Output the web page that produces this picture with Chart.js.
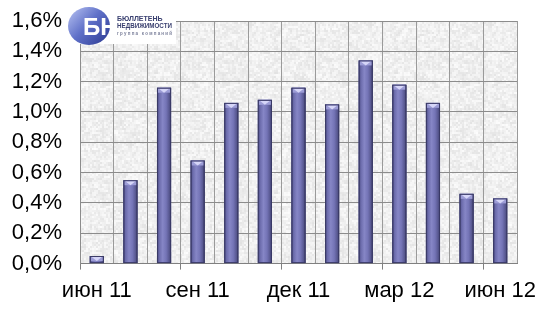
<!DOCTYPE html>
<html>
<head>
<meta charset="utf-8">
<script src="https://cdn.jsdelivr.net/npm/chart.js@4/dist/chart.umd.min.js"></script>
<style>
  html, body { margin: 0; padding: 0; background: #fff; }
  #wrap { width: 549px; height: 312px; }
</style>
</head>
<body>
<div id="wrap"><canvas id="chart" width="549" height="312"></canvas></div>
<script>
// months from June 2011 to June 2012
const months = ['июн 11', 'июл 11', 'авг 11', 'сен 11', 'окт 11', 'ноя 11', 'дек 11',
                'янв 12', 'фев 12', 'мар 12', 'апр 12', 'май 12', 'июн 12'];
const growth = [0.05, 0.55, 1.16, 0.68, 1.06, 1.08, 1.16, 1.05, 1.34, 1.18, 1.06, 0.46, 0.43];
const yTicks = [0, 0.2, 0.4, 0.6, 0.8, 1.0, 1.2, 1.4, 1.6];

const FONT = 'Arial, "Liberation Sans", sans-serif';

// light grey "marble" fill for the plot area (deterministic texture)
function makeTexture() {
    const c = document.createElement('canvas');
    c.width = 120; c.height = 120;
    const g = c.getContext('2d');
    g.fillStyle = '#efefef';
    g.fillRect(0, 0, 120, 120);
    for (let y = 0; y < 120; y += 2) {
        for (let x = 0; x < 120; x += 2) {
            const h = Math.sin(x * 12.9898 + y * 78.233) * 43758.5453;
            const f = h - Math.floor(h);
            const v = Math.round(224 + f * 30);
            g.fillStyle = `rgba(${v},${v},${v},0.7)`;
            g.fillRect(x, y, 2 + Math.round(f * 3), 2 + Math.round((1 - f) * 2));
        }
    }
    return c;
}

const plotBackground = {
    id: 'plotBackground',
    beforeDraw(chart) {
        const { ctx, chartArea: a } = chart;
        ctx.save();
        ctx.fillStyle = ctx.createPattern(makeTexture(), 'repeat');
        ctx.fillRect(a.left, a.top, a.right - a.left, a.bottom - a.top);
        ctx.restore();
    }
};

// cylinder-like shading and a bevelled top on every bar
const barShading = {
    id: 'barShading',
    afterDatasetsDraw(chart) {
        const ctx = chart.ctx;
        chart.getDatasetMeta(0).data.forEach(bar => {
            const l = bar.x - bar.width / 2, r = bar.x + bar.width / 2;
            const top = bar.y, base = bar.base;
            const grad = ctx.createLinearGradient(l, 0, r, 0);
            grad.addColorStop(0, '#3e3e70');
            grad.addColorStop(0.15, '#6a6aaa');
            grad.addColorStop(0.4, '#8686c6');
            grad.addColorStop(0.65, '#7474b6');
            grad.addColorStop(0.88, '#56568e');
            grad.addColorStop(1, '#36365e');
            ctx.save();
            ctx.fillStyle = grad;
            ctx.fillRect(l, top, r - l, base - top);
            const capH = Math.min(5, base - top);
            ctx.fillStyle = '#9c9cd6';
            ctx.fillRect(l + 1, top, r - l - 2, capH);
            ctx.beginPath();
            ctx.moveTo(l + 2, top + 1);
            ctx.lineTo(r - 2, top + 1);
            ctx.lineTo(bar.x, top + capH);
            ctx.closePath();
            ctx.fillStyle = '#d6d6f8';
            ctx.fill();
            ctx.strokeStyle = '#3a3a66';
            ctx.lineWidth = 1;
            ctx.strokeRect(l + 0.5, top + 0.5, r - l - 1, base - top - 1);
            ctx.restore();
        });
    }
};

// company logo in the top left corner
const logo = {
    id: 'logo',
    afterDraw(chart) {
        const ctx = chart.ctx;
        ctx.save();
        ctx.fillStyle = '#ffffff';
        ctx.fillRect(68, 7, 108, 37);
        const g = ctx.createLinearGradient(70, 8, 110, 45);
        g.addColorStop(0, '#b4bff0');
        g.addColorStop(0.45, '#5f70c8');
        g.addColorStop(1, '#2a3890');
        ctx.fillStyle = g;
        ctx.beginPath();
        ctx.ellipse(89, 26, 21, 19, 0, 0, Math.PI * 2);
        ctx.fill();
        ctx.fillStyle = '#ffffff';
        ctx.font = 'bold 24px ' + FONT;
        ctx.textAlign = 'left';
        ctx.textBaseline = 'middle';
        ctx.fillText('БН', 83, 28);
        ctx.fillStyle = '#3a4070';
        ctx.font = 'bold 7px ' + FONT;
        ctx.fillText('БЮЛЛЕТЕНЬ', 117, 19, 55);
        ctx.fillText('НЕДВИЖИМОСТИ', 117, 26, 55);
        ctx.fillStyle = '#7a7f9a';
        ctx.font = 'bold 5px ' + FONT;
        ctx.fillText('г р у п п а   к о м п а н и й', 117, 34, 55);
        ctx.restore();
    }
};

new Chart(document.getElementById('chart'), {
    type: 'bar',
    data: {
        labels: months,
        datasets: [{
            data: growth,
            backgroundColor: '#7474b4',
            borderWidth: 0,
            barPercentage: 0.42,
            categoryPercentage: 1
        }]
    },
    options: {
        responsive: false,
        animation: false,
        devicePixelRatio: 1,
        layout: { padding: { left: 12, right: 32, top: 21, bottom: 0 } },
        plugins: {
            legend: { display: false },
            tooltip: { enabled: false }
        },
        scales: {
            x: {
                grid: {
                    offset: true,
                    color: '#9a9a9a',
                    tickLength: 6,
                    tickColor: c => (c.index % 3 === 0 ? '#808080' : 'rgba(0,0,0,0)')
                },
                border: { color: '#808080' },
                ticks: {
                    autoSkip: false,
                    maxRotation: 0,
                    padding: 8,
                    color: '#000',
                    font: { family: FONT, size: 22 },
                    callback: (v, i) => (i % 3 === 0 ? months[i] : '')
                }
            },
            y: {
                min: 0,
                max: 1.6,
                afterBuildTicks: axis => { axis.ticks = yTicks.map(v => ({ value: v })); },
                afterFit: axis => { axis.width = 68; axis.paddingTop = 0; },
                grid: { color: '#8c8c8c', drawTicks: false },
                border: { color: '#8c8c8c' },
                ticks: {
                    autoSkip: false,
                    padding: 18,
                    color: '#000',
                    font: { family: FONT, size: 22 },
                    callback: v => v.toFixed(1).replace('.', ',') + '%'
                }
            }
        }
    },
    plugins: [plotBackground, barShading, logo]
});
</script>
</body>
</html>
